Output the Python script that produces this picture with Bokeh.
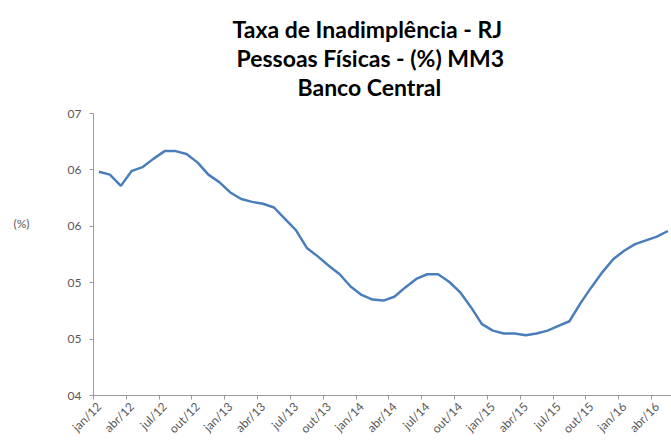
from bokeh.plotting import figure
from bokeh.models import FixedTicker, Range1d, Title, LinearAxis
from bokeh.embed import file_html
from bokeh.resources import INLINE

# ---- data ----
meses = ["jan", "fev", "mar", "abr", "mai", "jun", "jul", "ago", "set", "out", "nov", "dez"]
anos = ["12", "13", "14", "15", "16"]
periodos = [f"{m}/{a}" for a in anos for m in meses][:53]   # jan/12 .. mai/16
taxa = [6.38, 6.35, 6.23, 6.39, 6.43, 6.52, 6.60, 6.60, 6.57, 6.48, 6.35, 6.27,
        6.16, 6.09, 6.06, 6.04, 6.00, 5.88, 5.76, 5.57, 5.48, 5.38, 5.29, 5.16,
        5.07, 5.02, 5.01, 5.05, 5.15, 5.24, 5.29, 5.29, 5.21, 5.10, 4.94, 4.76,
        4.69, 4.66, 4.66, 4.64, 4.66, 4.69, 4.74, 4.79, 4.98, 5.15, 5.31, 5.45,
        5.54, 5.61, 5.65, 5.69, 5.75]
y_ticks = [4.0, 4.6, 5.2, 5.8, 6.4, 7.0]
y_tick_labels = ["04", "05", "05", "06", "06", "07"]
titulo = ["Taxa de Inadimplência - RJ", "Pessoas Físicas - (%) MM3", "Banco Central"]
unidade = "(%)"
unidade_pos = 5.83

idx = list(range(len(taxa)))
x_label_idx = idx[::3]
x_labels = {i: periodos[i] for i in x_label_idx}

FONT = "Lato"
GRAY_TXT = "#595959"
AXIS_COL = "#9a9a9a"

p = figure(width=671, height=444, output_backend="svg", toolbar_location=None,
           x_range=Range1d(-0.5, 52.33), y_range=Range1d(4.0, 7.0),
           min_border_left=93, min_border_right=0, min_border_top=113,
           min_border_bottom=48)
p.outline_line_color = None
p.grid.visible = False
p.background_fill_color = "white"
p.border_fill_color = "white"
p.title.visible = False

p.line(idx, taxa, line_color="#4a7ebb", line_width=2.5)

# x axis
p.xaxis.ticker = FixedTicker(ticks=x_label_idx,
                             minor_ticks=[i - 0.5 for i in x_label_idx])
p.xaxis.major_label_overrides = x_labels
p.xaxis.major_tick_line_color = None
p.xaxis.major_tick_out = 0
p.xaxis.major_tick_in = 0
p.xaxis.minor_tick_line_color = AXIS_COL
p.xaxis.minor_tick_out = 4
p.xaxis.minor_tick_in = 0
p.xaxis.axis_line_color = AXIS_COL
p.xaxis.major_label_orientation = 0.785398
p.xaxis.major_label_standoff = 5
p.xaxis.major_label_text_font = FONT
p.xaxis.major_label_text_font_size = "12px"
p.xaxis.major_label_text_color = GRAY_TXT

# y axis
p.yaxis.ticker = FixedTicker(ticks=y_ticks, minor_ticks=[])
p.yaxis.major_label_overrides = {v: s for v, s in zip(y_ticks, y_tick_labels)}
p.yaxis.axis_line_color = AXIS_COL
p.yaxis.major_tick_line_color = AXIS_COL
p.yaxis.major_tick_out = 4
p.yaxis.major_tick_in = 0
p.yaxis.major_label_standoff = 8
p.yaxis.major_label_text_font = FONT
p.yaxis.major_label_text_font_size = "12px"
p.yaxis.major_label_text_color = GRAY_TXT

# unit label "(%)" as an extra, line-less axis on the left
unit_axis = LinearAxis(ticker=FixedTicker(ticks=[unidade_pos], minor_ticks=[]),
                       major_label_overrides={unidade_pos: unidade},
                       axis_line_color=None, major_tick_line_color=None,
                       minor_tick_line_color=None, major_label_standoff=29,
                       major_label_text_font=FONT,
                       major_label_text_font_size="12px",
                       major_label_text_color=GRAY_TXT)
p.add_layout(unit_axis, "left")

# spacer between frame and title block
p.add_layout(Title(text=" ", text_font_size="1px", standoff=10), "above")
# title lines, stacked above the frame (first added = closest to the plot)
for txt, off in zip(reversed(titulo), [204, 143, 139]):
    p.add_layout(Title(text=txt, align="left", offset=off, standoff=-1.5,
                       text_font=FONT, text_font_style="bold",
                       text_font_size="23px", text_color="black"), "above")
# spacer on top (absorbs remaining border space)
p.add_layout(Title(text=" ", text_font_size="1px", standoff=0), "above")

open("out.html", "w").write(file_html(p, INLINE))
